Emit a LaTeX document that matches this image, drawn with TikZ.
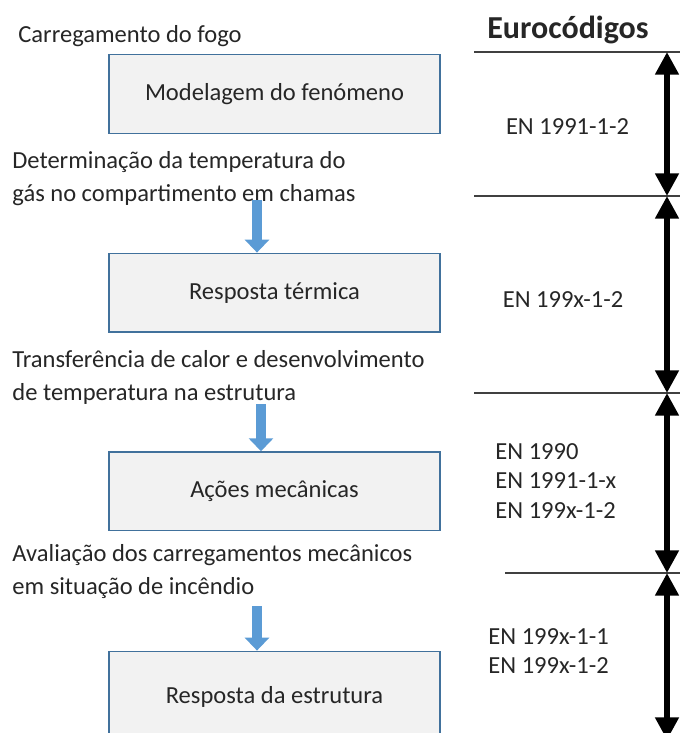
\documentclass[tikz,border=0pt]{standalone}
\usepackage{fontspec}
\setmainfont{Carlito}
\usetikzlibrary{arrows.meta}
\definecolor{boxfill}{HTML}{F2F2F2}
\definecolor{boxline}{HTML}{41719C}
\definecolor{flowblue}{HTML}{5B9BD5}
\definecolor{textgray}{HTML}{262626}
\begin{document}
\begin{tikzpicture}[
    x=0.75pt, y=-0.75pt, semithick, node distance=150pt,
    txt/.style={font=\fontsize{18.4}{24.75}\selectfont, text=textgray, inner sep=0pt},
    box/.style={txt, rectangle, draw=boxline, fill=boxfill, line width=1.1pt,
      minimum width=248pt, minimum height=59pt},
    steptext/.style={txt, align=left, anchor=base west},
    eurotext/.style={txt, align=left, font=\fontsize{18.4}{22}\selectfont},
    flow/.style={draw=flowblue, line width=8.2pt, -{Triangle[width=18pt, length=9.75pt]}},
    spanarrow/.style={line width=4.5pt,
      {Triangle[width=17pt, length=17pt]}-{Triangle[width=17pt, length=17pt]}},
    hline/.style={draw=black!75, line width=1.2pt}
  ]
  \useasboundingbox (0,0) rectangle (680,733);

  % caixas da esquerda
  \node[box] (modelo) at (274.5,94) {Modelagem do fenómeno};
  \node[box, below of=modelo, node distance=149pt] (termica) {Resposta térmica};
  \node[box, below of=termica, node distance=149pt] (mecanica) {Ações mecânicas};
  \node[box, below of=mecanica, node distance=154pt, minimum height=68pt] (estrutura) {Resposta da estrutura};

  % textos entre as caixas (base = ultima linha)
  \node[txt, anchor=base west] (fogo) at (18,42) {Carregamento do fogo};
  \node[steptext] (gas) at (12,201) {Determinação da temperatura do\\gás no compartimento em chamas};
  \node[steptext] (calor) at (12,400) {Transferência de calor e desenvolvimento\\de temperatura na estrutura};
  \node[steptext] (cargas) at (12,594) {Avaliação dos carregamentos mecânicos\\em situação de incêndio};

  \coordinate (f1) at (257,200);
  \coordinate (f2) at (261,404);
  \coordinate (f3) at (257,606);
  \draw[flow] (f1) -- (f1 |- termica.north);
  \draw[flow] (f2) -- (f2 |- mecanica.north);
  \draw[flow] (f3) -- (f3 |- estrutura.north);

  % coluna dos eurocodigos
  \node[txt, font=\fontsize{24}{28}\bfseries, anchor=base] (euro) at (568,38) {Eurocódigos};
  \node[eurotext] (en1) at (567.5,127) {EN 1991-1-2};
  \node[eurotext] (en2) at (563,300) {EN 199x-1-2};
  \node[eurotext, anchor=west] (en3) at (495,481) {EN 1990\\EN 1991-1-x\\EN 199x-1-2};
  \node[eurotext, anchor=west] (en4) at (488,651) {EN 199x-1-1\\EN 199x-1-2};

  \coordinate (h0) at (474,52);
  \coordinate (h1) at (474,196);
  \coordinate (h2) at (474,393);
  \coordinate (h3) at (505,573);
  \coordinate (h4) at (667,740);
  \foreach \h in {h0,h1,h2,h3}
    \draw[hline] (\h) -- (\h -| 680,0);
  \draw[spanarrow] (h0 -| 667,0) -- (h1 -| 667,0);
  \draw[spanarrow] (h1 -| 667,0) -- (h2 -| 667,0);
  \draw[spanarrow] (h2 -| 667,0) -- (h3 -| 667,0);
  \draw[spanarrow] (h3 -| 667,0) -- (h4);
\end{tikzpicture}
\end{document}
